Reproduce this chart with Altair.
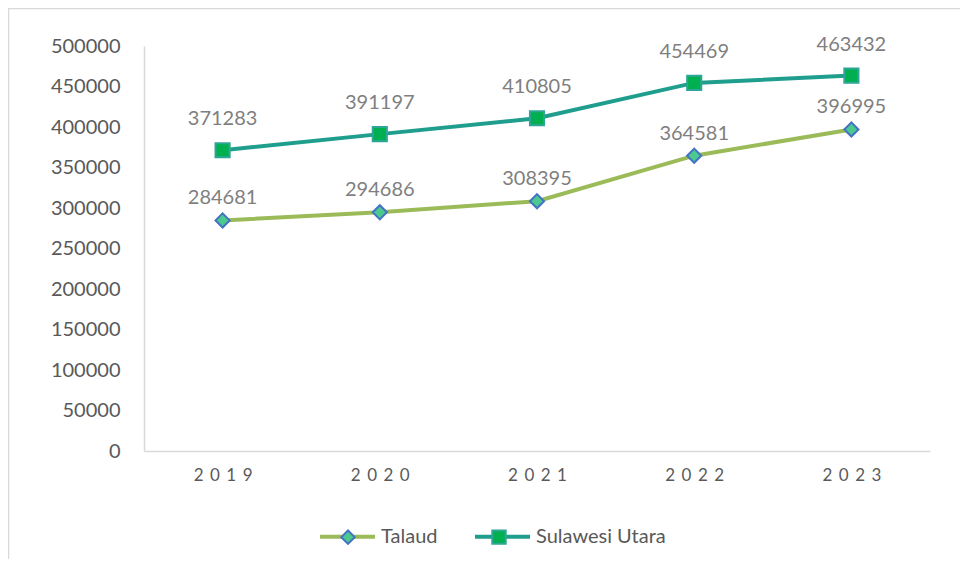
import altair as alt
import pandas as pd

years = ["2019", "2020", "2021", "2022", "2023"]
talaud = [284681, 294686, 308395, 364581, 396995]
sulut = [371283, 391197, 410805, 454469, 463432]
series_names = ["Talaud", "Sulawesi Utara"]

line_colors = ["#9bbb59", "#1f9e8e"]
marker_fill = ["#4cc98f", "#00b050"]
marker_stroke = ["#4472c4", "#2ea596"]
marker_shape = ["diamond", "square"]

FONT = "Lato"
TICK_COLOR = "#595959"
LABEL_COLOR = "#7f7f7f"
AXIS_LINE = "#d9d9d9"

rows = []
for yr, v in zip(years, talaud):
    rows.append({"year": yr, "value": v, "series": "Talaud"})
for yr, v in zip(years, sulut):
    rows.append({"year": yr, "value": v, "series": "Sulawesi Utara"})
df = pd.DataFrame(rows)

x = alt.X(
    "year:N",
    sort=years,
    scale=alt.Scale(type="point", padding=0.5),
    axis=alt.Axis(
        title=None, labelAngle=0, domainColor=AXIS_LINE, domainWidth=1.5, ticks=False,
        labelFont=FONT, labelFontSize=17, labelColor=TICK_COLOR, labelPadding=16,
        labelExpr="join(split(datum.label, ''), ' \u2009')",
    ),
)
y = alt.Y(
    "value:Q",
    scale=alt.Scale(domain=[0, 500000], nice=False),
    axis=alt.Axis(
        title=None, values=list(range(0, 500001, 50000)), format="d",
        domainColor=AXIS_LINE, domainWidth=1.5, ticks=False, grid=False,
        labelFont=FONT, labelFontSize=20, labelColor=TICK_COLOR, labelPadding=24,
    ),
)

legend_common = dict(
    orient="none", direction="horizontal", title=None, padding=0,
    labelFont=FONT, labelFontSize=20, labelColor=TICK_COLOR,
)

# outer chart frame (decoration only)
frame = alt.Chart(pd.DataFrame({"k": [0]})).mark_rect(
    fill=None, stroke=AXIS_LINE, strokeWidth=1.5
).encode(
    x=alt.value(-135.5), x2=alt.value(900), y=alt.value(-37.5), y2=alt.value(600)
)

lines = alt.Chart(df).mark_line(strokeWidth=4).encode(
    x=x, y=y,
    color=alt.Color(
        "series:N",
        scale=alt.Scale(domain=series_names, range=line_colors),
        legend=alt.Legend(
            legendX=174, legendY=461, symbolType="stroke", symbolSize=3025,
            symbolStrokeWidth=4, labelOffset=4, columnPadding=29, **legend_common,
        ),
    ),
)

pt_legend = alt.Legend(
    legendX=194, legendY=481, labelOffset=5, columnPadding=125,
    symbolSize=180, symbolStrokeWidth=2, labelExpr="''", **legend_common,
)
points = alt.Chart(df).mark_point(filled=True, size=200, strokeWidth=2, opacity=1).encode(
    x=x, y=y,
    fill=alt.Fill("series:N", scale=alt.Scale(domain=series_names, range=marker_fill), legend=pt_legend),
    stroke=alt.Stroke("series:N", scale=alt.Scale(domain=series_names, range=marker_stroke), legend=pt_legend),
    shape=alt.Shape("series:N", scale=alt.Scale(domain=series_names, range=marker_shape), legend=pt_legend),
)

text_s = alt.Chart(df).transform_filter(alt.datum.series == "Sulawesi Utara").mark_text(
    dy=-31, fontSize=20, font=FONT, color=LABEL_COLOR, baseline="middle"
).encode(x=x, y=y, text=alt.Text("value:Q", format="d"))

text_t = alt.Chart(df).transform_filter(alt.datum.series == "Talaud").mark_text(
    dy=-22, fontSize=20, font=FONT, color=LABEL_COLOR, baseline="middle"
).encode(x=x, y=y, text=alt.Text("value:Q", format="d"))

chart = alt.layer(frame, lines, points, text_s, text_t).resolve_legend(
    color="independent", fill="independent", stroke="independent", shape="independent"
).properties(
    width=786, height=405,
    autosize=alt.AutoSizeParams(type="none"),
    padding={"left": 136, "top": 38, "right": 30, "bottom": 108},
).configure_view(stroke=None)

chart.save("out.html", embed_options={"renderer": "svg", "actions": False})
